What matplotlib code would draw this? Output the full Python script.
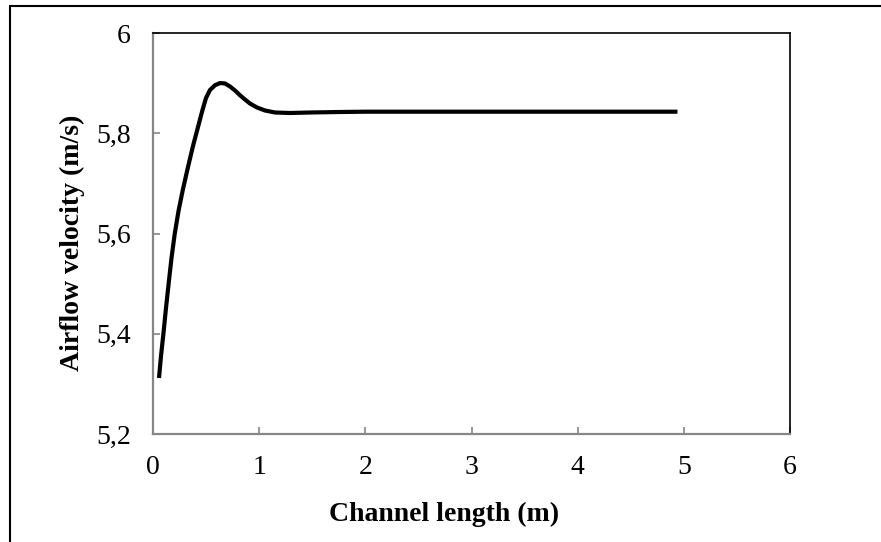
import matplotlib
matplotlib.use("Agg")
import matplotlib.pyplot as plt
from matplotlib.patches import Rectangle
from matplotlib.ticker import FuncFormatter

plt.rcParams['font.family'] = ['Liberation Serif', 'DejaVu Serif']

channel_length = [0.0565, 0.0754, 0.0989, 0.1224, 0.1479, 0.1742, 0.2044, 0.2402, 0.2826,
                  0.3297, 0.3768, 0.4239, 0.4662, 0.4992, 0.5369, 0.5840, 0.6311, 0.6782,
                  0.7253, 0.7723, 0.8194, 0.8665, 0.9136, 0.9796, 1.0549, 1.1491, 1.2904,
                  1.4788, 1.761, 2.0, 2.5, 3.0, 3.5, 4.0, 4.5, 4.94]
airflow_velocity = [5.3117, 5.3556, 5.4015, 5.4514, 5.5012, 5.5511, 5.5990, 5.6449, 5.6888,
                    5.7327, 5.7746, 5.8125, 5.8464, 5.8703, 5.8863, 5.8958, 5.9002, 5.8993,
                    5.8933, 5.8853, 5.8758, 5.8673, 5.8593, 5.8514, 5.8454, 5.8414, 5.8404,
                    5.8414, 5.8424, 5.843, 5.843, 5.843, 5.843, 5.843, 5.843, 5.843]
x_ticks = [0, 1, 2, 3, 4, 5, 6]
y_ticks = [5.2, 5.4, 5.6, 5.8, 6.0]

W, H = 881, 542
fig = plt.figure(figsize=(W / 100, H / 100), dpi=100)
ax = fig.add_axes([153 / W, 1 - 434 / H, (790 - 153) / W, (434 - 33) / H])

ax.plot(channel_length, airflow_velocity, color='black', lw=3.0,
        solid_capstyle='butt', solid_joinstyle='round')

ax.set_xlim(0, 6)
ax.set_ylim(5.2, 6.0)
ax.set_xticks(x_ticks)
ax.set_yticks(y_ticks)
ax.yaxis.set_major_formatter(FuncFormatter(lambda v, p: ('%g' % v).replace('.', ',')))
ax.xaxis.set_major_formatter(FuncFormatter(lambda v, p: '%g' % v))

gray = '#868686'
for s in ['left', 'bottom']:
    ax.spines[s].set_color(gray)
    ax.spines[s].set_linewidth(1.6)
for s in ['top', 'right']:
    ax.spines[s].set_color('black')
    ax.spines[s].set_linewidth(1.2)

ax.tick_params(axis='both', direction='in', length=5, width=1.2, color=gray,
               labelsize=20)
ax.tick_params(axis='x', pad=15)
ax.tick_params(axis='y', pad=16)

ax.set_xlabel('Channel length (m)', fontsize=20, fontweight='bold', va='center')
ax.set_ylabel('Airflow velocity (m/s)', fontsize=20, fontweight='bold', va='center')
ax.xaxis.set_label_coords((444 - 153) / 637, (434 - 514) / 401)
ax.yaxis.set_label_coords((72 - 153) / 637, (434 - 243) / 401)

fig.patches.append(Rectangle((10 / W, -0.1), 1.2, 1 - 6 / H + 0.1,
                             transform=fig.transFigure, fill=False,
                             edgecolor='black', linewidth=1.5))

fig.savefig('out.png', dpi=100)
